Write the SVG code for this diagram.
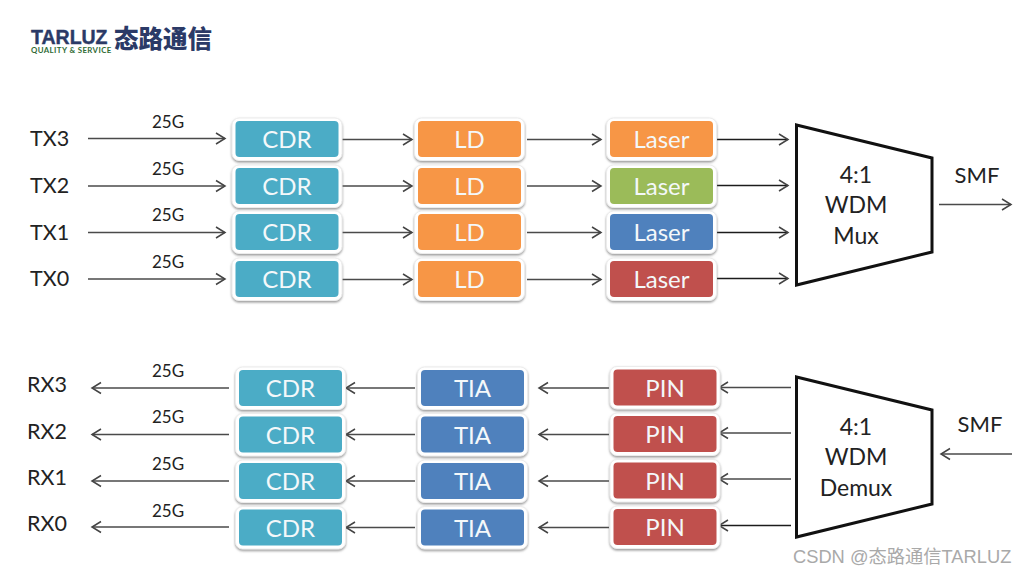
<svg xmlns="http://www.w3.org/2000/svg" width="1027" height="575" viewBox="0 0 1027 575">
<style>
text{font-family:"Lato","Liberation Sans","Noto Sans CJK SC",sans-serif;fill:#222}
.pl{fill:#fff;stroke:#ececec;stroke-width:1;filter:url(#s)}
.w{fill:#f4f8fa;font-size:24px;text-anchor:middle}
.io{font-size:21.500px}
.g{font-size:17px;text-anchor:middle}
.m{font-size:23px;text-anchor:middle}
.cdr{fill:#4bacc6}.ld{fill:#f79646}.green{fill:#9bbb59}.blue{fill:#4f81bd}.red{fill:#c0504d}
.c{fill:none;stroke:#4a4a4a;stroke-width:1.5;marker-end:url(#a)}
.d{stroke:#1c1c1c;stroke-width:1.700}
.t{fill:#fff;stroke:#111;stroke-width:3}
</style>
<defs>
<filter id="s" x="-10%" y="-15%" width="120%" height="135%"><feDropShadow dx="0" dy="1.500" stdDeviation="1" flood-color="#777" flood-opacity=".75"/></filter>
<marker id="a" markerUnits="userSpaceOnUse" markerWidth="14" markerHeight="16" refX="11" refY="7" orient="auto"><path d="M2 1.500L11 7L2 12.500" fill="none" stroke="#444" stroke-width="1.500"/></marker>
<rect id="box" class="pl" x="-3.500" y="-3" width="110" height="42.500" rx="7"/>
</defs>
<rect width="1027" height="575" fill="#fff"/>
<g id="logo">
<text x="31" y="43.500" style="font-size:19.500px;font-weight:700;fill:#2b3a67;stroke:#2b3a67;stroke-width:.4;font-family:'Liberation Sans',sans-serif">TARLUZ</text>
<text x="31" y="52.700" style="font-size:7.800px;font-weight:700;fill:#2f6b35;letter-spacing:.42px">QUALITY &amp; SERVICE</text>
<text x="114" y="47.500" style="font-size:24.500px;font-weight:900;fill:#2b3a67;font-family:'Noto Sans CJK SC',sans-serif">态路通信</text>
</g>
<g id="connectors">
<path class="c" d="M88 138.500H225"/><path class="c" d="M88 186H225"/><path class="c" d="M88 232.500H225"/><path class="c" d="M88 279H225"/>
<path class="c" d="M342 139.500H412"/><path class="c" d="M342 186H412"/><path class="c" d="M342 232.500H412"/><path class="c" d="M342 279.500H412"/>
<path class="c" d="M527 139.500H601"/><path class="c" d="M527 186H601"/><path class="c" d="M527 232.500H601"/><path class="c" d="M527 279.500H601"/>
<path class="c d" d="M717 139.500H788"/><path class="c d" d="M717 185.500H788"/><path class="c d" d="M717 232.500H788"/><path class="c d" d="M717 278.500H788"/>
<path class="c" d="M939 204.500H1011"/>
<path class="c" d="M791 387.500H719"/><path class="c" d="M791 433H719"/><path class="c" d="M791 479H719"/><path class="c d" d="M791 525.500H719"/>
<path class="c" d="M609 388H539"/><path class="c" d="M609 434.500H539"/><path class="c" d="M609 481H539"/><path class="c" d="M609 527.500H539"/>
<path class="c" d="M415 388H346"/><path class="c" d="M415 434.500H346"/><path class="c" d="M415 481H346"/><path class="c" d="M415 527.500H346"/>
<path class="c" d="M229 388H92"/><path class="c" d="M229 434.500H92"/><path class="c" d="M229 481H92"/><path class="c" d="M229 527H92"/>
<path class="c" d="M1012 454H941"/>
</g>
<g id="tx-labels">
<text class="io" x="30" y="146">TX3</text><text class="io" x="30" y="193">TX2</text><text class="io" x="30" y="240">TX1</text><text class="io" x="30" y="286">TX0</text>
<text class="g" x="168" y="128">25G</text><text class="g" x="168" y="175">25G</text><text class="g" x="168" y="221">25G</text><text class="g" x="168" y="268">25G</text>
</g>
<g id="rx-labels">
<text class="io" x="27" y="392">RX3</text><text class="io" x="27" y="439">RX2</text><text class="io" x="27" y="485">RX1</text><text class="io" x="27" y="531">RX0</text>
<text class="g" x="168" y="377">25G</text><text class="g" x="168" y="423">25G</text><text class="g" x="168" y="470">25G</text><text class="g" x="168" y="517">25G</text>
</g>
<g id="cdr-t3" transform="translate(235.500 121)"><use href="#box"/><rect class="cdr" width="103" height="36" rx="4"/><text class="w" x="51.500" y="27">CDR</text></g>
<g id="cdr-t2" transform="translate(235.500 168)"><use href="#box"/><rect class="cdr" width="103" height="36" rx="4"/><text class="w" x="51.500" y="27">CDR</text></g>
<g id="cdr-t1" transform="translate(235.500 214)"><use href="#box"/><rect class="cdr" width="103" height="36" rx="4"/><text class="w" x="51.500" y="27">CDR</text></g>
<g id="cdr-t0" transform="translate(235.500 261)"><use href="#box"/><rect class="cdr" width="103" height="36" rx="4"/><text class="w" x="51.500" y="27">CDR</text></g>
<g id="ld-3" transform="translate(418 121)"><use href="#box"/><rect class="ld" width="103" height="36" rx="4"/><text class="w" x="51.500" y="27">LD</text></g>
<g id="ld-2" transform="translate(418 168)"><use href="#box"/><rect class="ld" width="103" height="36" rx="4"/><text class="w" x="51.500" y="27">LD</text></g>
<g id="ld-1" transform="translate(418 214)"><use href="#box"/><rect class="ld" width="103" height="36" rx="4"/><text class="w" x="51.500" y="27">LD</text></g>
<g id="ld-0" transform="translate(418 261)"><use href="#box"/><rect class="ld" width="103" height="36" rx="4"/><text class="w" x="51.500" y="27">LD</text></g>
<g id="laser-3" transform="translate(610 121)"><use href="#box"/><rect class="ld" width="103" height="36" rx="4"/><text class="w" x="51.500" y="27">Laser</text></g>
<g id="laser-2" transform="translate(610 168)"><use href="#box"/><rect class="green" width="103" height="36" rx="4"/><text class="w" x="51.500" y="27">Laser</text></g>
<g id="laser-1" transform="translate(610 214)"><use href="#box"/><rect class="blue" width="103" height="36" rx="4"/><text class="w" x="51.500" y="27">Laser</text></g>
<g id="laser-0" transform="translate(610 261)"><use href="#box"/><rect class="red" width="103" height="36" rx="4"/><text class="w" x="51.500" y="27">Laser</text></g>
<g id="cdr-r3" transform="translate(239 370)"><use href="#box"/><rect class="cdr" width="103" height="36" rx="4"/><text class="w" x="51.500" y="27">CDR</text></g>
<g id="cdr-r2" transform="translate(239 416.500)"><use href="#box"/><rect class="cdr" width="103" height="36" rx="4"/><text class="w" x="51.500" y="27">CDR</text></g>
<g id="cdr-r1" transform="translate(239 463)"><use href="#box"/><rect class="cdr" width="103" height="36" rx="4"/><text class="w" x="51.500" y="27">CDR</text></g>
<g id="cdr-r0" transform="translate(239 509.500)"><use href="#box"/><rect class="cdr" width="103" height="36" rx="4"/><text class="w" x="51.500" y="27">CDR</text></g>
<g id="tia-3" transform="translate(421 370)"><use href="#box"/><rect class="blue" width="103" height="36" rx="4"/><text class="w" x="51.500" y="27">TIA</text></g>
<g id="tia-2" transform="translate(421 416.500)"><use href="#box"/><rect class="blue" width="103" height="36" rx="4"/><text class="w" x="51.500" y="27">TIA</text></g>
<g id="tia-1" transform="translate(421 463)"><use href="#box"/><rect class="blue" width="103" height="36" rx="4"/><text class="w" x="51.500" y="27">TIA</text></g>
<g id="tia-0" transform="translate(421 509.500)"><use href="#box"/><rect class="blue" width="103" height="36" rx="4"/><text class="w" x="51.500" y="27">TIA</text></g>
<g id="pin-3" transform="translate(613.500 369.500)"><use href="#box"/><rect class="red" width="103" height="36" rx="4"/><text class="w" x="51.500" y="27">PIN</text></g>
<g id="pin-2" transform="translate(613.500 416)"><use href="#box"/><rect class="red" width="103" height="36" rx="4"/><text class="w" x="51.500" y="27">PIN</text></g>
<g id="pin-1" transform="translate(613.500 462.500)"><use href="#box"/><rect class="red" width="103" height="36" rx="4"/><text class="w" x="51.500" y="27">PIN</text></g>
<g id="pin-0" transform="translate(613.500 509)"><use href="#box"/><rect class="red" width="103" height="36" rx="4"/><text class="w" x="51.500" y="27">PIN</text></g>
<g id="mux"><path class="t" d="M796.500 125L932 158V252L796.500 285Z"/><text class="m" x="856" y="183">4:1</text><text class="m" x="856" y="213">WDM</text><text class="m" x="856" y="244">Mux</text></g>
<g id="demux"><path class="t" d="M796.500 377L932 410V504L796.500 537Z"/><text class="m" x="856" y="435">4:1</text><text class="m" x="856" y="465">WDM</text><text class="m" x="856" y="496">Demux</text></g>
<text x="977" y="183" style="font-size:22px;text-anchor:middle">SMF</text>
<text x="980" y="432" style="font-size:22px;text-anchor:middle">SMF</text>
<text x="793" y="563" style="font-size:18.300px;fill:#a9a9a9;font-family:'Liberation Sans','Noto Sans CJK SC',sans-serif">CSDN @态路通信TARLUZ</text>
</svg>
